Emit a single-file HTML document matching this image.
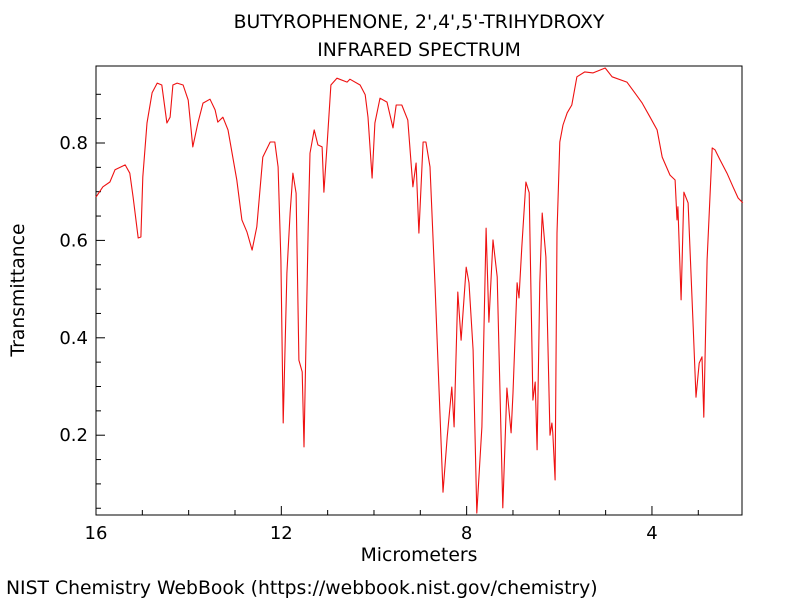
<!DOCTYPE html>
<html><head><meta charset="utf-8"><style>
body{margin:0;background:#fff;}
svg{display:block;font-family:"DejaVu Sans","Liberation Sans",sans-serif;}
</style></head><body>
<svg id="chart" width="800" height="600">
<text x="419" y="28" text-anchor="middle" font-size="18.8">BUTYROPHENONE, 2',4',5'-TRIHYDROXY</text>
<text x="419" y="56" text-anchor="middle" font-size="18.8">INFRARED SPECTRUM</text>
<text transform="translate(24,290) rotate(-90)" text-anchor="middle" font-size="18.8">Transmittance</text>
<text x="419" y="561" text-anchor="middle" font-size="18.8">Micrometers</text>
<text x="6" y="594" font-size="18.8">NIST Chemistry WebBook (https://webbook.nist.gov/chemistry)</text>
<rect x="96" y="66" width="646" height="449" fill="none" stroke="#000" stroke-width="1"/>
<g id="ticks"></g>
<path id="trace" fill="none" stroke="#ee1111" stroke-width="1.1" stroke-linejoin="round"/>
</svg>
<script>
const wavelengths=[16.00,15.85,15.70,15.59,15.37,15.27,15.20,15.09,15.03,14.99,14.90,14.79,14.68,14.58,14.47,14.40,14.34,14.25,14.12,14.01,13.91,13.80,13.69,13.54,13.43,13.37,13.26,13.15,12.96,12.85,12.74,12.63,12.53,12.40,12.24,12.14,12.07,12.01,11.96,11.88,11.81,11.75,11.68,11.62,11.55,11.51,11.42,11.38,11.29,11.21,11.12,11.08,11.01,10.93,10.80,10.58,10.52,10.30,10.19,10.13,10.04,9.98,9.87,9.72,9.59,9.52,9.40,9.27,9.16,9.09,9.03,8.94,8.88,8.79,8.68,8.62,8.51,8.42,8.32,8.27,8.19,8.12,8.01,7.95,7.86,7.78,7.67,7.58,7.52,7.43,7.34,7.22,7.13,7.04,7.00,6.91,6.87,6.81,6.72,6.65,6.57,6.52,6.48,6.42,6.37,6.29,6.20,6.16,6.14,6.09,6.05,5.99,5.92,5.83,5.73,5.62,5.45,5.27,5.01,4.86,4.54,4.37,4.21,4.04,3.89,3.78,3.61,3.50,3.46,3.44,3.37,3.31,3.22,3.11,3.05,2.98,2.92,2.88,2.81,2.70,2.64,2.53,2.38,2.25,2.14,2.04];
const transmittance=[.689,.710,.720,.745,.755,.738,.689,.605,.607,.730,.841,.903,.923,.919,.841,.853,.919,.923,.919,.888,.792,.841,.882,.890,.868,.843,.853,.827,.724,.642,.617,.580,.628,.771,.802,.802,.751,.560,.225,.533,.656,.738,.697,.354,.330,.176,.628,.779,.827,.796,.792,.699,.800,.919,.933,.925,.931,.919,.899,.853,.728,.841,.892,.884,.831,.878,.878,.847,.710,.759,.615,.802,.802,.751,.504,.354,.083,.196,.299,.217,.494,.395,.545,.513,.375,.040,.217,.625,.432,.601,.525,.051,.297,.205,.287,.513,.482,.586,.720,.698,.272,.309,.170,.513,.656,.566,.200,.225,.205,.108,.615,.802,.837,.862,.878,.936,.946,.944,.954,.936,.925,.903,.882,.853,.827,.771,.734,.724,.642,.669,.478,.699,.677,.422,.278,.348,.361,.237,.560,.790,.786,.765,.738,.710,.687,.677];
const xMajorTicks=[16,12,8,4];
const yMajorTicks=[0.2,0.4,0.6,0.8];
const yTickLabels=["0.2","0.4","0.6","0.8"];
const X=u=>96+(16-u)*46.33;
const Y=t=>143-(t-0.8)*487;
const NS="http://www.w3.org/2000/svg";
const g=document.getElementById('ticks');
function line(x1,y1,x2,y2,name){const l=document.createElementNS(NS,'line');l.setAttribute('x1',x1);l.setAttribute('y1',y1);l.setAttribute('x2',x2);l.setAttribute('y2',y2);l.setAttribute('stroke','#000');


g.appendChild(l);}
function txt(x,y,s,anchor,name){const t=document.createElementNS(NS,'text');t.setAttribute('x',x);t.setAttribute('y',y);t.setAttribute('text-anchor',anchor);t.setAttribute('font-size','18');t.textContent=s;


g.appendChild(t);}
for(let u=3;u<=16;u++){const maj=xMajorTicks.includes(u);line(X(u),515,X(u),515-(maj?9:5),'x-tick');}
xMajorTicks.forEach(u=>txt(X(u),539,String(u),'middle','x-tick-label'));
for(let i=1;i<=18;i++){const t=i*0.05;const y=Y(t);if(y<66||y>515)continue;const maj=yMajorTicks.some(v=>Math.abs(v-t)<1e-6);line(96,y,96+(maj?9:5),y,'y-tick');}
yMajorTicks.forEach((t,i)=>txt(88,Y(t)+6,yTickLabels[i],'end','y-tick-label'));
let d='';wavelengths.forEach((u,i)=>{d+=(i?'L':'M')+X(u).toFixed(1)+','+Y(transmittance[i]).toFixed(1);});
document.getElementById('trace').setAttribute('d',d);
</script>
</body></html>
